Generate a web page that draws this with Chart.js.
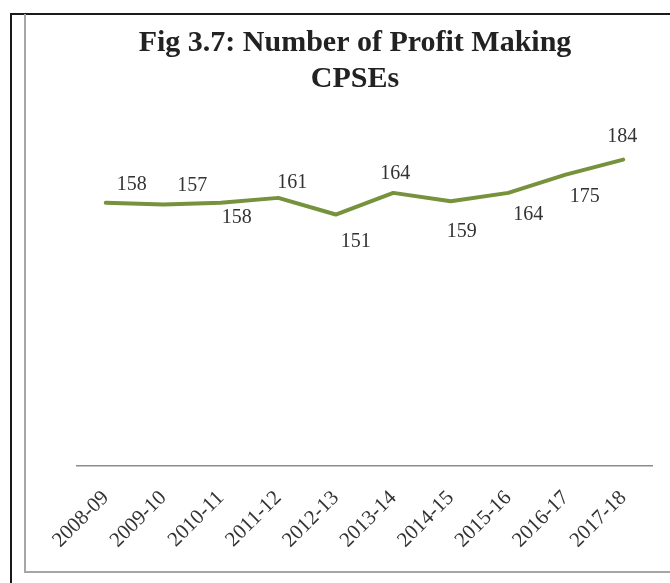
<!DOCTYPE html>
<html>
<head>
<meta charset="utf-8">
<script src="https://cdn.jsdelivr.net/npm/chart.js@4"></script>
<style>
  html, body { margin: 0; padding: 0; background: #fff; }
  body { width: 670px; height: 583px; position: relative; overflow: hidden; }
  .outer { position: absolute; left: 10px; top: 13px; width: 700px; height: 620px;
           border-left: 2px solid #1a1a1a; border-top: 2px solid #1a1a1a; }
  .inner { position: absolute; left: 24px; top: 14px; width: 700px; height: 557px;
           border-left: 2px solid #a6a6a6; border-bottom: 2px solid #a6a6a6; }
  .wrap { position: absolute; left: 26px; top: 15px; width: 644px; height: 560px; }
</style>
</head>
<body>
<div class="outer"></div>
<div class="inner"></div>
<div class="wrap"><canvas id="chart"></canvas></div>
<script>
// Fig 3.7 - number of profit making CPSEs

const years = ['2008-09', '2009-10', '2010-11', '2011-12', '2012-13',
               '2013-14', '2014-15', '2015-16', '2016-17', '2017-18'];
const profitMaking = [158, 157, 158, 161, 151, 164, 159, 164, 175, 184];

// where each value label sits relative to its point (as placed in the original)
const labelDx = [26, 29, 16, 14, 20, 2, 11, 20, 19, -1];
const labelDy = [-18, -19, 15, -15, 27, -19, 31, 22, 22, -23];

const SERIF = "'Liberation Serif', 'DejaVu Serif', serif";

const valueLabels = {
    id: 'valueLabels',
    afterDatasetsDraw(chart) {
        const ctx = chart.ctx;
        const meta = chart.getDatasetMeta(0);
        ctx.save();
        ctx.font = '20px ' + SERIF;
        ctx.fillStyle = '#333333';
        ctx.textAlign = 'center';
        ctx.textBaseline = 'middle';
        meta.data.forEach((pt, i) => {
            ctx.fillText(String(profitMaking[i]), pt.x + labelDx[i], pt.y + labelDy[i]);
        });
        ctx.restore();
    }
};

const ctx = document.getElementById('chart').getContext('2d');
new Chart(ctx, {
    type: 'line',
    data: {
        labels: years,
        datasets: [{
            data: profitMaking,
            borderColor: '#76923C',
            borderWidth: 4,
            borderCapStyle: 'round',
            borderJoinStyle: 'round',
            pointRadius: 0,
            tension: 0,
            fill: false
        }]
    },
    options: {
        responsive: true,
        maintainAspectRatio: false,
        animation: false,
        layout: { padding: { left: 32, right: 18, top: 0, bottom: 2 } },
        plugins: {
            legend: { display: false },
            tooltip: { enabled: false },
            title: {
                display: true,
                text: ['Fig 3.7: Number of Profit Making', 'CPSEs'],
                color: '#222222',
                font: { family: SERIF, size: 30, weight: 'bold', lineHeight: 1.2 },
                padding: { top: 10, bottom: 36 }
            }
        },
        scales: {
            x: {
                offset: true,
                grid: { display: true, drawOnChartArea: false, drawTicks: false },
                border: { display: true, color: '#8c8c8c', width: 1.5 },
                ticks: {
                    minRotation: 45,
                    maxRotation: 45,
                    padding: 20,
                    color: '#333333',
                    font: { family: SERIF, size: 21 }
                }
            },
            y: {
                min: 0,
                max: 200,
                grid: { display: false },
                border: { display: false },
                ticks: { display: false },
                afterFit(scale) { scale.width = 19; }
            }
        }
    },
    plugins: [valueLabels]
});
</script>
</body>
</html>
